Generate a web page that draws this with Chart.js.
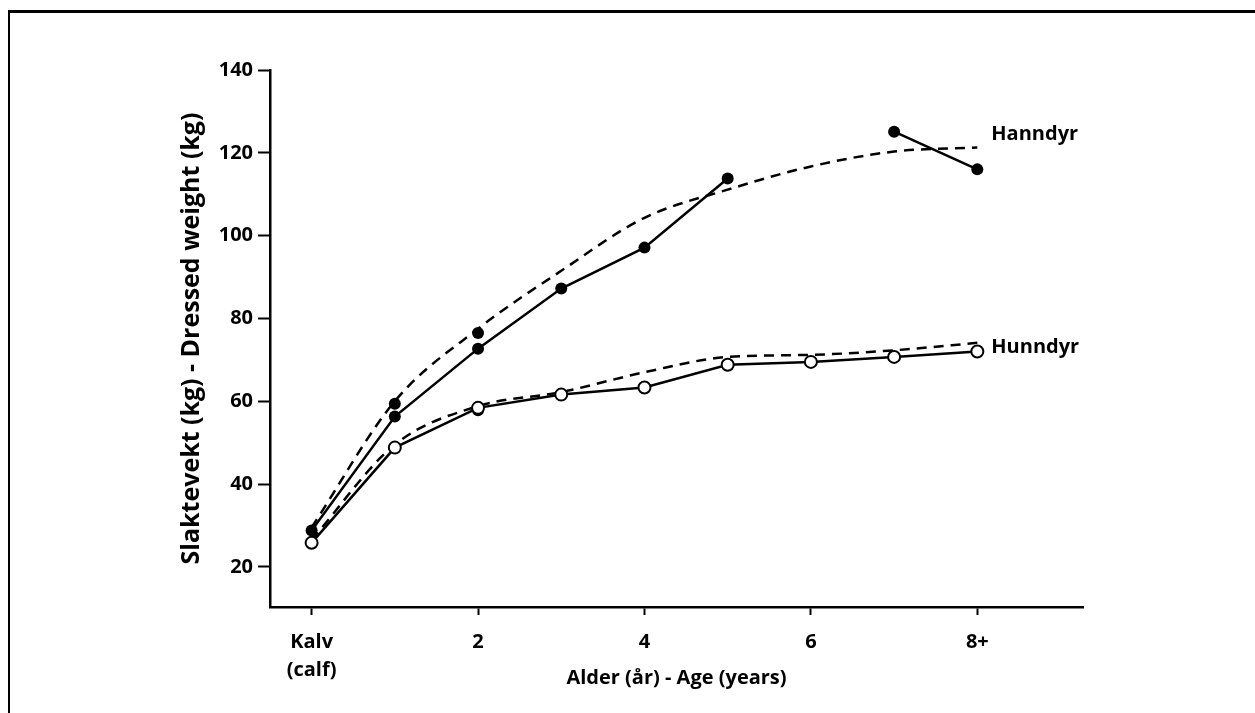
<!DOCTYPE html>
<html>
<head>
<meta charset="utf-8">
<script src="https://cdn.jsdelivr.net/npm/chart.js@4.4.1/dist/chart.umd.min.js"></script>
<style>
  html, body { margin: 0; padding: 0; background: #fff; }
  #wrap { position: relative; width: 1255px; height: 713px; }
  #frame { position: absolute; left: 8px; top: 10px; right: -10px; bottom: -10px;
           border-top: 3px solid #000; border-left: 2px solid #000; }
  canvas { position: absolute; left: 0; top: 0; }
</style>
</head>
<body>
<div id="wrap">
  <div id="frame"></div>
  <canvas id="chart" width="1255" height="713"></canvas>
</div>
<script>
// ages: 0 = calf, 8 = 8 years and older
const ages = [0, 1, 2, 3, 4, 5, 6, 7, 8];

// observed dressed weight (kg), solid lines
const hanndyrObs = [28.8, 56.3, 72.7, 87.2, 97.1, 113.8, null, 125.1, 116.0];
const hunndyrObs = [25.8, 48.8, 58.4, 61.6, 63.3, 68.8, 69.5, 70.7, 72.0];

// loose filled points not joined by a line
const extraAges = [1, 2, 2];
const extraObs = [59.4, 76.5, 57.8];

// fitted curves, dashed
const hanndyrFit = [29.5, 60.0, 77.5, 91.5, 104.3, 111.1, 116.7, 120.3, 121.3];
const hunndyrFit = [26.5, 49.5, 58.8, 62.2, 67.0, 70.7, 71.2, 72.3, 74.1];

const seriesNames = ['Hanndyr', 'Hunndyr'];

const xTicks = [0, 2, 4, 6, 8];
const xTickLabels = [['Kalv', '(calf)'], '2', '4', '6', '8+'];
const yTicks = [20, 40, 60, 80, 100, 120, 140];

const toPoints = (xs, ys) => xs.map((x, i) => ({ x: x, y: ys[i] }));

const FONT = '"Open Sans", "DejaVu Sans", sans-serif';

// names written at the right end of each curve
const endLabels = {
  id: 'endLabels',
  afterDatasetsDraw(chart) {
    const { ctx, scales } = chart;
    const last = ages.length - 1;
    const x = scales.x.getPixelForValue(ages[last]) + 14;
    const yA = scales.y.getPixelForValue(hanndyrFit[last]) - 13;
    const yB = scales.y.getPixelForValue(hunndyrFit[last]) + 4;
    ctx.save();
    ctx.fillStyle = '#000';
    ctx.font = 'bold 20px ' + FONT;
    ctx.textBaseline = 'middle';
    ctx.textAlign = 'left';
    ctx.fillText(seriesNames[0], x, yA);
    ctx.fillText(seriesNames[1], x, yB);
    ctx.restore();
  }
};

new Chart(document.getElementById('chart'), {
  type: 'line',
  data: {
    datasets: [
      {
        label: 'Hunndyr',
        data: toPoints(ages, hunndyrObs),
        borderColor: '#000',
        borderWidth: 2.5,
        pointRadius: 6,
        pointBorderWidth: 2,
        pointBackgroundColor: '#fff',
        pointBorderColor: '#000',
        fill: false,
        tension: 0,
      },
      {
        label: 'Hanndyr',
        data: toPoints(ages, hanndyrObs),
        borderColor: '#000',
        borderWidth: 2.5,
        pointRadius: 6,
        pointBorderWidth: 0,
        pointBackgroundColor: '#000',
        fill: false,
        spanGaps: false,
        tension: 0,
      },
      {
        label: 'extra',
        data: toPoints(extraAges, extraObs),
        showLine: false,
        pointRadius: 6,
        pointBorderWidth: 0,
        pointBackgroundColor: '#000',
      },
      {
        label: 'Hanndyr fit',
        data: toPoints(ages, hanndyrFit),
        borderColor: '#000',
        borderWidth: 2.5,
        borderDash: [10, 7],
        pointRadius: 0,
        fill: false,
        cubicInterpolationMode: 'monotone',
      },
      {
        label: 'Hunndyr fit',
        data: toPoints(ages, hunndyrFit),
        borderColor: '#000',
        borderWidth: 2.5,
        borderDash: [10, 7],
        pointRadius: 0,
        fill: false,
        cubicInterpolationMode: 'monotone',
      },
    ],
  },
  options: {
    responsive: false,
    animation: false,
    events: [],
    layout: { padding: { left: 175, right: 172, top: 70, bottom: 0 } },
    plugins: {
      legend: { display: false },
      tooltip: { enabled: false },
    },
    scales: {
      x: {
        type: 'linear',
        min: -0.5,
        max: 9.27,
        afterBuildTicks: (scale) => { scale.ticks = xTicks.map(v => ({ value: v })); },
        afterFit: (scale) => { scale.height = 106; },
        grid: { drawOnChartArea: false, drawTicks: true, tickLength: 8, tickWidth: 2, tickColor: '#000' },
        border: { display: true, color: '#000', width: 2.5 },
        ticks: {
          color: '#000',
          padding: 13,
          maxRotation: 0,
          autoSkip: false,
          font: { family: FONT, size: 20, weight: 'bold', lineHeight: 1.4 },
          callback: (value) => xTickLabels[xTicks.indexOf(value)],
        },
        title: {
          display: true,
          text: 'Alder (år) - Age (years)',
          color: '#000',
          font: { family: FONT, size: 20, weight: 'bold' },
          padding: { top: 0, bottom: 23 },
        },
      },
      y: {
        min: 10.3,
        max: 140,
        afterBuildTicks: (scale) => { scale.ticks = yTicks.map(v => ({ value: v })); },
        afterFit: (scale) => { scale.width = 95; },
        grid: { drawOnChartArea: false, drawTicks: true, tickLength: 12, tickWidth: 2, tickColor: '#000' },
        border: { display: true, color: '#000', width: 2.5 },
        ticks: {
          color: '#000',
          padding: 5,
          font: { family: FONT, size: 20, weight: 'bold' },
        },
        title: {
          display: true,
          text: 'Slaktevekt (kg) - Dressed weight (kg)',
          color: '#000',
          font: { family: FONT, size: 25, weight: 'bold' },
          padding: { top: 2, bottom: 0 },
        },
      },
    },
  },
  plugins: [endLabels],
});
</script>
</body>
</html>
